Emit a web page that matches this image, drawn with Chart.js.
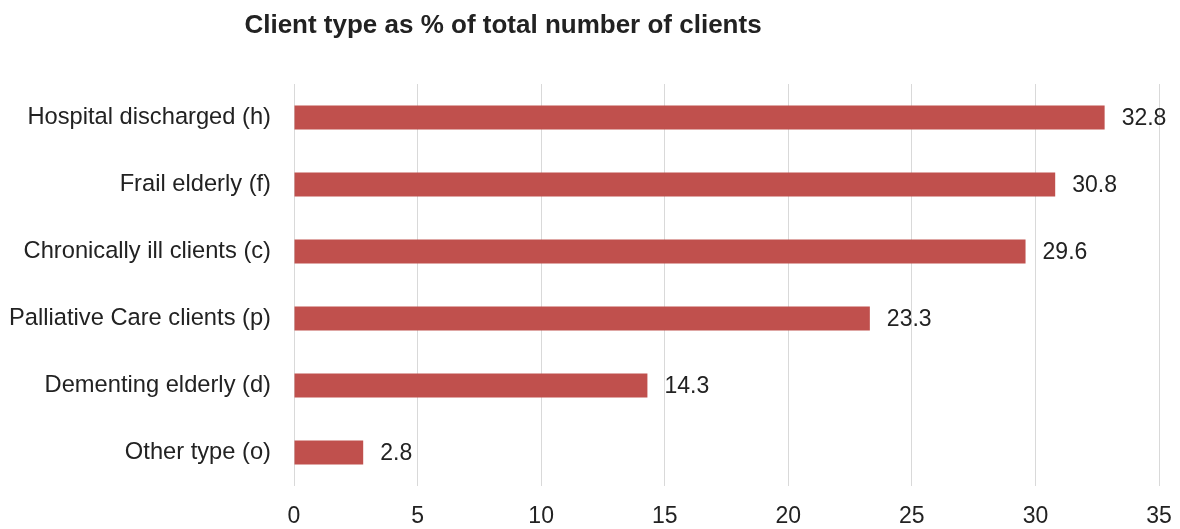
<!DOCTYPE html>
<html>
<head>
<meta charset="utf-8">
<title>Client type as % of total number of clients</title>
<script src="https://cdn.jsdelivr.net/npm/chart.js@4/dist/chart.umd.min.js"></script>
<style>
  html, body { margin: 0; padding: 0; background: #fff; }
  #wrap { width: 1180px; height: 529px; position: relative; }
</style>
</head>
<body>
<div id="wrap"><canvas id="clientChart"></canvas></div>
<script>
// client categories, top to bottom
const clientTypes = [
  'Hospital discharged (h)',
  'Frail elderly (f)',
  'Chronically ill clients (c)',
  'Palliative Care clients (p)',
  'Dementing elderly (d)',
  'Other type (o)'
];
// share of total clients, %
const clientShare = [32.8, 30.8, 29.6, 23.3, 14.3, 2.8];
const axisTicks = [0, 5, 10, 15, 20, 25, 30, 35];
const chartTitle = 'Client type as % of total number of clients';

const FONT = '"Liberation Sans", Arial, Helvetica, sans-serif';
const TEXT = '#222222';
const BAR = '#c0504d';

// title sits left of centre, above the plot
const titlePlugin = {
  id: 'leftTitle',
  afterDraw(chart) {
    const c = chart.ctx;
    c.save();
    c.font = 'bold 26px ' + FONT;
    c.fillStyle = TEXT;
    c.textAlign = 'center';
    c.textBaseline = 'alphabetic';
    c.fillText(chartTitle, 503, 33);
    c.restore();
  }
};

// value printed just past the end of each bar
const valueLabels = {
  id: 'valueLabels',
  afterDatasetsDraw(chart) {
    const c = chart.ctx;
    const meta = chart.getDatasetMeta(0);
    c.save();
    c.font = '23px ' + FONT;
    c.fillStyle = TEXT;
    c.textAlign = 'left';
    c.textBaseline = 'middle';
    meta.data.forEach((bar, i) => {
      c.fillText(clientShare[i].toFixed(1), bar.x + 17, bar.y + 1);
    });
    c.restore();
  }
};

Chart.defaults.font.family = FONT;
Chart.defaults.color = TEXT;

new Chart(document.getElementById('clientChart'), {
  type: 'bar',
  data: {
    labels: clientTypes,
    datasets: [{
      data: clientShare,
      backgroundColor: BAR,
      borderWidth: 0,
      barPercentage: 0.36,
      categoryPercentage: 1
    }]
  },
  options: {
    indexAxis: 'y',
    responsive: true,
    maintainAspectRatio: false,
    animation: false,
    layout: { padding: { top: 84, right: 0, left: 0, bottom: 0 } },
    plugins: {
      legend: { display: false },
      title: { display: false },
      tooltip: { enabled: false }
    },
    scales: {
      x: {
        min: 0,
        max: 35,
        afterBuildTicks(scale) { scale.ticks = axisTicks.map(v => ({ value: v })); },
        afterFit(scale) {
          scale.height = 43;
          scale.paddingLeft = 0;
          scale.paddingRight = 21;
        },
        grid: { color: '#d9d9d9', lineWidth: 1, drawTicks: false },
        border: { display: false },
        ticks: { font: { size: 23 }, color: TEXT, padding: 17 }
      },
      y: {
        afterFit(scale) { scale.width = 294; },
        grid: { display: false, drawTicks: false },
        border: { display: false },
        ticks: { font: { size: 23.7 }, color: TEXT, padding: 23 }
      }
    }
  },
  plugins: [titlePlugin, valueLabels]
});
</script>
</body>
</html>
